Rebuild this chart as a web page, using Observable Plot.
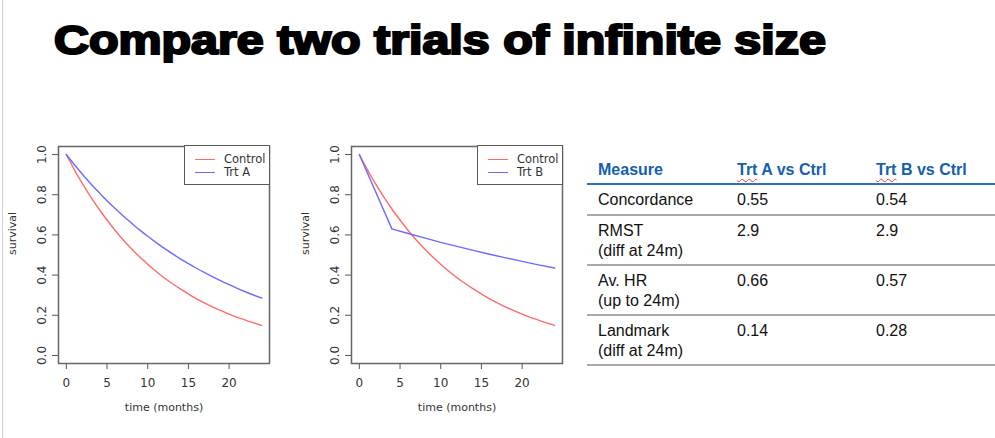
<!DOCTYPE html>
<html>
<head>
<meta charset="utf-8">
<script src="https://cdn.jsdelivr.net/npm/d3@7"></script>
<script src="https://cdn.jsdelivr.net/npm/@observablehq/plot@0.6"></script>
<style>
  html, body { margin: 0; padding: 0; background: #fff; }
  body { width: 995px; height: 438px; position: relative; overflow: hidden; font-family: "Liberation Sans", Arial, sans-serif; }
  .edge { position: absolute; left: 2px; top: 0; width: 1px; height: 438px; background: #cfcfcf; }
  .title { position: absolute; left: 54px; top: 20px; font-size: 40px; line-height: 40px; font-weight: bold; color: #000;
           -webkit-text-stroke: 2.2px #000; white-space: nowrap; transform-origin: 0 0; transform: scaleX(1.21); }
  .plot { position: absolute; top: 120px; }
  .legend { position: absolute; top: 145px; width: 84px; height: 38px; border: 1px solid #5a5a5a; background: #fff;
            font-family: "DejaVu Sans", sans-serif; font-size: 11.5px; color: #333; }
  .legend .sw { position: absolute; left: 10px; width: 20px; height: 0; border-top: 1.4px solid; }
  .legend .lb { position: absolute; left: 39px; line-height: 12px; }
  .cell { position: absolute; font-size: 16px; line-height: 20px; color: #111; white-space: nowrap; }
  .head { position: absolute; font-size: 16px; line-height: 20px; font-weight: bold; color: #1560ad; white-space: nowrap; }
  .sp { text-decoration: underline wavy #e04040; text-decoration-thickness: 1px; text-underline-offset: 3px; }
  .rule { position: absolute; left: 587px; width: 408px; }
</style>
</head>
<body>
<div class="edge"></div>
<div class="title">Compare two trials of infinite size</div>
<div id="plots"></div>
<div id="table"></div>
<script>
// ---- Survival curves ----
const months = [0,1,2,3,4,5,6,7,8,9,10,11,12,13,14,15,16,17,18,19,20,21,22,23,24];
const control = [1,0.924,0.854,0.789,0.729,0.674,0.622,0.575,0.531,0.491,0.454,0.419,0.387,0.358,0.331,0.306,0.282,0.261,0.241,0.223,0.206,0.19,0.176,0.162,0.15];
const trtA = [1,0.949,0.901,0.855,0.812,0.77,0.731,0.694,0.659,0.625,0.593,0.563,0.534,0.507,0.481,0.457,0.434,0.412,0.391,0.371,0.352,0.334,0.317,0.301,0.286];
const trtBMonths = [0,4,6,8,10,12,14,16,18,20,22,24];
const trtB = [1,0.63,0.607,0.585,0.563,0.543,0.523,0.504,0.486,0.468,0.451,0.435];

const xTicks = [0,5,10,15,20];
const yTicks = [0,0.2,0.4,0.6,0.8,1.0];
const xLabel = "time (months)";
const yLabel = "survival";

// ---- Table ----
const headers = ["Measure", "Trt A vs Ctrl", "Trt B vs Ctrl"];
const measures = ["Concordance", "RMST", "Av. HR", "Landmark"];
const measureNotes = ["", "(diff at 24m)", "(up to 24m)", "(diff at 24m)"];
const trtAvsCtrl = ["0.55", "2.9", "0.66", "0.14"];
const trtBvsCtrl = ["0.54", "2.9", "0.57", "0.28"];

const RED = "#ff6b6b", BLUE = "#6b6bff";

function survivalPlot(trtX, trtY, trtName, left, trtCurve) {
  const ctrl = months.map((t, i) => ({t, s: control[i]}));
  const trt = trtX.map((t, i) => ({t, s: trtY[i]}));
  const svg = Plot.plot({
    width: 290, height: 300,
    marginLeft: 58, marginRight: 21, marginTop: 26, marginBottom: 57,
    style: {fontFamily: "DejaVu Sans, sans-serif", fontSize: "12px", color: "#333", background: "transparent", overflow: "visible"},
    x: {domain: [-0.96, 24.96]},
    y: {domain: [-0.04, 1.04]},
    marks: [
      Plot.axisX({ticks: xTicks, tickSize: 6, tickPadding: 9, label: null, stroke: "#555", fontSize: 12}),
      Plot.axisY({ticks: yTicks, tickSize: 6, tickPadding: 7, tickRotate: -90, tickFormat: d3.format(".1f"), label: null, stroke: "#555", fontSize: 12}),
      Plot.line(ctrl, {x: "t", y: "s", stroke: RED, strokeWidth: 1.4, curve: "monotone-x"}),
      Plot.line(trt, {x: "t", y: "s", stroke: BLUE, strokeWidth: 1.4, curve: trtCurve}),
      Plot.frame({stroke: "#666", strokeWidth: 1.5}),
      Plot.text([xLabel], {frameAnchor: "bottom", dy: 47, fontSize: 11, fill: "#333"}),
      Plot.text([yLabel], {frameAnchor: "left", dx: -46, rotate: -90, fontSize: 11, fill: "#333"})
    ]
  });
  const wrap = document.createElement("div");
  wrap.className = "plot";
  wrap.style.left = left + "px";
  wrap.appendChild(svg);
  const leg = document.createElement("div");
  leg.className = "legend";
  leg.style.left = (184 + left) + "px";
  leg.innerHTML =
    `<div class="sw" style="top:13px;border-color:${RED}"></div><div class="lb" style="top:7px">Control</div>` +
    `<div class="sw" style="top:26px;border-color:${BLUE}"></div><div class="lb" style="top:20px">${trtName}</div>`;
  document.getElementById("plots").appendChild(wrap);
  document.getElementById("plots").appendChild(leg);
}

survivalPlot(months, trtA, "Trt A", 0, "monotone-x");
survivalPlot(trtBMonths, trtB, "Trt B", 293, "linear");

// ---- Build table ----
const colX = [598, 737, 876];
const T = document.getElementById("table");
function add(cls, html, x, y) {
  const d = document.createElement("div");
  d.className = cls; d.innerHTML = html;
  d.style.left = x + "px"; d.style.top = y + "px";
  T.appendChild(d);
}
headers.forEach((h, i) => {
  const html = h.startsWith("Trt") ? `<span class="sp">Trt</span>${h.slice(3)}` : h;
  add("head", html, colX[i], 159.5);
});
const blue = document.createElement("div");
blue.className = "rule"; blue.style.top = "183px"; blue.style.height = "2px"; blue.style.background = "#2f72b6";
T.appendChild(blue);
let ruleY = 184;
measures.forEach((m, i) => {
  const top = ruleY + 5.5;
  add("cell", m + (measureNotes[i] ? "<br>" + measureNotes[i] : ""), colX[0], top);
  add("cell", trtAvsCtrl[i], colX[1], top);
  add("cell", trtBvsCtrl[i], colX[2], top);
  ruleY += measureNotes[i] ? 50 : 31;
  const r = document.createElement("div");
  r.className = "rule"; r.style.top = (ruleY - 1) + "px"; r.style.height = "2px"; r.style.background = "#a9a9a9";
  T.appendChild(r);
});
</script>
</body>
</html>
